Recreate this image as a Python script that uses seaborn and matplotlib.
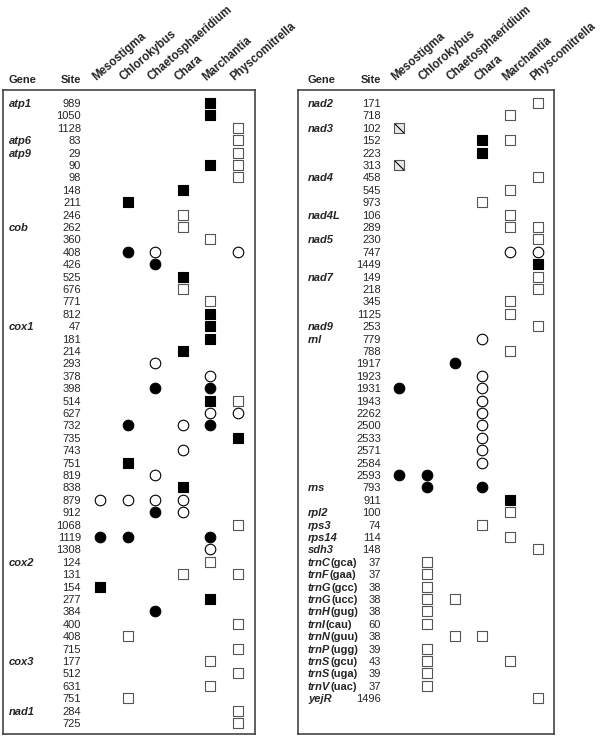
import numpy as np
import pandas as pd
import matplotlib
matplotlib.use('Agg')
import matplotlib.pyplot as plt
from matplotlib.path import Path
import seaborn as sns

species = ['Mesostigma', 'Chlorokybus', 'Chaetosphaeridium',
           'Chara', 'Marchantia', 'Physcomitrella']

# one string per row, one char per species column
# F filled square, S open square, C filled circle, O open circle, H hatched square
left_genes = ['atp1', '', '', 'atp6', 'atp9', '', '', '', '', '',
              'cob', '', '', '', '', '', '', '', 'cox1', '',
              '', '', '', '', '', '', '', '', '', '',
              '', '', '', '', '', '', '', 'cox2', '', '',
              '', '', '', '', '', 'cox3', '', '', '', 'nad1', '']
left_sites = [989, 1050, 1128, 83, 29, 90, 98, 148, 211, 246,
              262, 360, 408, 426, 525, 676, 771, 812, 47, 181,
              214, 293, 378, 398, 514, 627, 732, 735, 743, 751,
              819, 838, 879, 912, 1068, 1119, 1308, 124, 131, 154,
              277, 384, 400, 408, 715, 177, 512, 631, 751, 284, 725]
left_marks = ['....F.', '....F.', '.....S', '.....S', '.....S',
              '....FS', '.....S', '...F..', '.F....', '...S..',
              '...S..', '....S.', '.CO..O', '..C...', '...F..',
              '...S..', '....S.', '....F.', '....F.', '....F.',
              '...F..', '..O...', '....O.', '..C.C.', '....FS',
              '....OO', '.C.OC.', '.....F', '...O..', '.F....',
              '..O...', '...F..', 'OOOO..', '..CO..', '.....S',
              'CC..C.', '....O.', '....S.', '...S.S', 'F.....',
              '....F.', '..C...', '.....S', '.S....', '.....S',
              '....S.', '.....S', '....S.', '.S....', '.....S', '.....S']

right_genes = ['nad2', '', 'nad3', '', '', '', 'nad4', '', '', 'nad4L',
               '', 'nad5', '', '', 'nad7', '', '', '', 'nad9', 'rnl',
               '', '', '', '', '', '', '', '', '', '',
               '', 'rns', '', 'rpl2', 'rps3', 'rps14', 'sdh3',
               'trnC(gca)', 'trnF(gaa)', 'trnG(gcc)', 'trnG(ucc)',
               'trnH(gug)', 'trnI(cau)', 'trnN(guu)', 'trnP(ugg)',
               'trnS(gcu)', 'trnS(uga)', 'trnV(uac)', 'yejR']
right_sites = [171, 718, 102, 152, 223, 313, 458, 545, 973, 106,
               289, 230, 747, 1449, 149, 218, 345, 1125, 253, 779,
               788, 1917, 1923, 1931, 1943, 2262, 2500, 2533, 2571, 2584,
               2593, 793, 911, 100, 74, 114, 148,
               37, 37, 38, 38, 38, 60, 38, 39, 43, 39, 37, 1496]
right_marks = ['.....S', '....S.', 'H.....', '...FS.', '...F..',
               'H.....', '.....S', '....S.', '...S..', '....S.',
               '....SS', '.....S', '....OO', '.....F', '.....S',
               '.....S', '....S.', '....S.', '.....S', '...O..',
               '....S.', '..C...', '...O..', 'C..O..', '...O..',
               '...O..', '...O..', '...O..', '...O..', '...O..',
               'CC....', '.C.C..', '....F.', '....S.', '...S..',
               '....S.', '.....S',
               '.S....', '.S....', '.S....', '.SS...', '.S....',
               '.S....', '..SS..', '.S....', '.S..S.', '.S....',
               '.S....', '.....S']

sns.set_theme(style='white')
plt.rcParams['font.family'] = ['Liberation Sans', 'DejaVu Sans']

STYLES = {
    'F': dict(marker='s', facecolor='black', edgecolor='black', s=50),
    'S': dict(marker='s', facecolor='white', edgecolor='#555555', s=48),
    'H': dict(marker='s', facecolor='#e8e8e8', edgecolor='#555555', s=42),
    'C': dict(marker='o', facecolor='black', edgecolor='black', s=58),
    'O': dict(marker='o', facecolor='white', edgecolor='black', s=58),
}
DIAG = Path([(-1, 1), (1, -1)], [Path.MOVETO, Path.LINETO])

W, H = 600, 736
ROW0, ROWH = 103, 12.4


def marks_frame(marks):
    rows = []
    for r, code in enumerate(marks):
        for c, ch in enumerate(code):
            if ch != '.':
                rows.append({'row': r, 'col': c, 'kind': ch})
    return pd.DataFrame(rows)


def draw_panel(fig, px_left, px_right, col0, colw, gene_px, site_px,
               genes, sites, marks):
    top, bottom = 90, 734
    ax = fig.add_axes([px_left / W, 1 - bottom / H,
                       (px_right - px_left) / W, (bottom - top) / H])
    df = marks_frame(marks)
    for kind, kw in STYLES.items():
        sub = df[df['kind'] == kind]
        if sub.empty:
            continue
        sns.scatterplot(data=sub, x='col', y='row', ax=ax, legend=False,
                        linewidth=0.8, zorder=3, **kw)
        if kind == 'H':
            ax.scatter(sub['col'], sub['row'], marker=DIAG, s=42,
                       color='black', linewidth=0.8, zorder=4)

    ax.set_xlim((px_left - col0) / colw, (px_right - col0) / colw)
    ax.set_ylim((bottom - ROW0) / ROWH, (top - ROW0) / ROWH)
    ax.set_xticks([])
    ax.set_yticks([])
    ax.set_xlabel('')
    ax.set_ylabel('')
    for sp in ax.spines.values():
        sp.set_color('#444444')
        sp.set_linewidth(1.2)

    gx = (gene_px - col0) / colw
    sx = (site_px - col0) / colw
    for r, (g, s) in enumerate(zip(genes, sites)):
        ax.text(sx, r, str(s), ha='right', va='center_baseline', fontsize=8)
        if g:
            name, _, rest = g.partition('(')
            t = ax.text(gx, r, name, ha='left', va='center_baseline',
                        fontsize=8, fontweight='bold', fontstyle='italic')
            if rest:
                ax.annotate('(' + rest, xy=(1, 0), xycoords=t,
                            ha='left', va='bottom', fontsize=8,
                            fontweight='bold')

    hy = (83 - ROW0) / ROWH
    ax.text(gx, hy, 'Gene', ha='left', va='baseline',
            fontsize=8, fontweight='bold')
    ax.text(sx, hy, 'Site', ha='right', va='baseline',
            fontsize=8, fontweight='bold')
    for c, name in enumerate(species):
        ax.text(c - 0.15, (81 - ROW0) / ROWH, name, rotation=41,
                rotation_mode='anchor', ha='left', va='baseline',
                fontsize=8.3, fontweight='bold')
    return ax


fig = plt.figure(figsize=(W / 100, H / 100), dpi=100)
draw_panel(fig, 3, 255, 100, 27.6, 9, 81, left_genes, left_sites, left_marks)
draw_panel(fig, 298, 554, 399, 27.8, 308, 381,
           right_genes, right_sites, right_marks)

fig.savefig('out.png', dpi=100)
plt.close(fig)
